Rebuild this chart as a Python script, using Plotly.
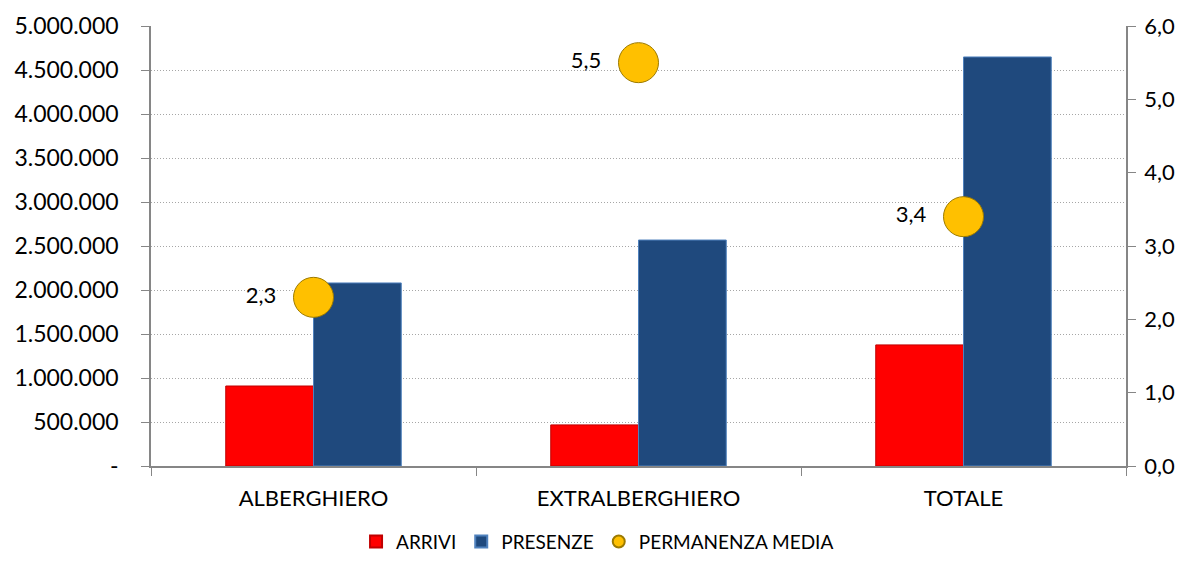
import plotly.graph_objects as go

categories = ["ALBERGHIERO", "EXTRALBERGHIERO", "TOTALE"]
arrivi = [909000, 467000, 1376000]
presenze = [2080000, 2568000, 4648000]
permanenza = [2.3, 5.5, 3.4]

left_tickvals = [0, 500000, 1000000, 1500000, 2000000, 2500000, 3000000, 3500000, 4000000, 4500000, 5000000]
left_ticktext = ["-", "500.000", "1.000.000", "1.500.000", "2.000.000", "2.500.000",
                 "3.000.000", "3.500.000", "4.000.000", "4.500.000", "5.000.000"]
right_tickvals = [0, 1, 2, 3, 4, 5, 6]
right_ticktext = ["0,0", "1,0", "2,0", "3,0", "4,0", "5,0", "6,0"]
perm_text = ["2,3  ", "5,5  ", "3,4  "]

FONT = "Lato"
AX = "#868686"

fig = go.Figure()
fig.add_trace(go.Bar(name="ARRIVI", x=categories, y=arrivi,
                     marker=dict(color="#FF0000", line=dict(color="#C00000", width=1))))
fig.add_trace(go.Bar(name="PRESENZE", x=categories, y=presenze,
                     marker=dict(color="#1F497D", line=dict(color="#4F81BD", width=1))))
fig.add_trace(go.Scatter(name="PERMANENZA MEDIA", x=categories, y=permanenza, yaxis="y2",
                         mode="markers+text", text=perm_text, textposition="middle left",
                         textfont=dict(size=22, color="#000000", family=FONT),
                         marker=dict(size=40, color="#FFC000", line=dict(color="#9C7A00", width=1))))

# page body has an 8px margin, so the figure is sized and placed to fit inside it
fig.update_layout(
    width=1172, height=546,
    margin=dict(l=143, r=54, t=18, b=88, autoexpand=False),
    paper_bgcolor="white", plot_bgcolor="white",
    font=dict(family=FONT, size=22, color="#000000"),
    barmode="group", bargap=0.46, bargroupgap=0,
    showlegend=True,
    legend=dict(orientation="h", x=0.458, xanchor="center", y=-0.172, yanchor="middle",
                font=dict(size=19, family=FONT), itemsizing="constant",
                traceorder="normal", itemwidth=30),
    xaxis=dict(type="category", showline=True, linecolor=AX, linewidth=1.5,
               ticks="outside", tickson="boundaries", ticklen=8, tickcolor=AX,
               tickfont=dict(size=22, family=FONT), showgrid=False, ticklabelstandoff=12),
    yaxis=dict(range=[0, 5000000], tickvals=left_tickvals, ticktext=left_ticktext,
               showline=True, linecolor=AX, linewidth=1.5, ticks="outside", ticklen=8,
               tickcolor=AX, showgrid=True, gridcolor="#A6A6A6", griddash="1px,2px", gridwidth=1,
               zeroline=False, tickfont=dict(size=23, family=FONT), ticklabelstandoff=18),
    yaxis2=dict(range=[0, 6], tickvals=right_tickvals, ticktext=right_ticktext,
                overlaying="y", side="right", showline=True, linecolor=AX, linewidth=1.5,
                ticks="outside", ticklen=8, tickcolor=AX, showgrid=False, zeroline=False,
                tickfont=dict(size=22, family=FONT), ticklabelstandoff=4),
)

fig.write_html("out.html")
